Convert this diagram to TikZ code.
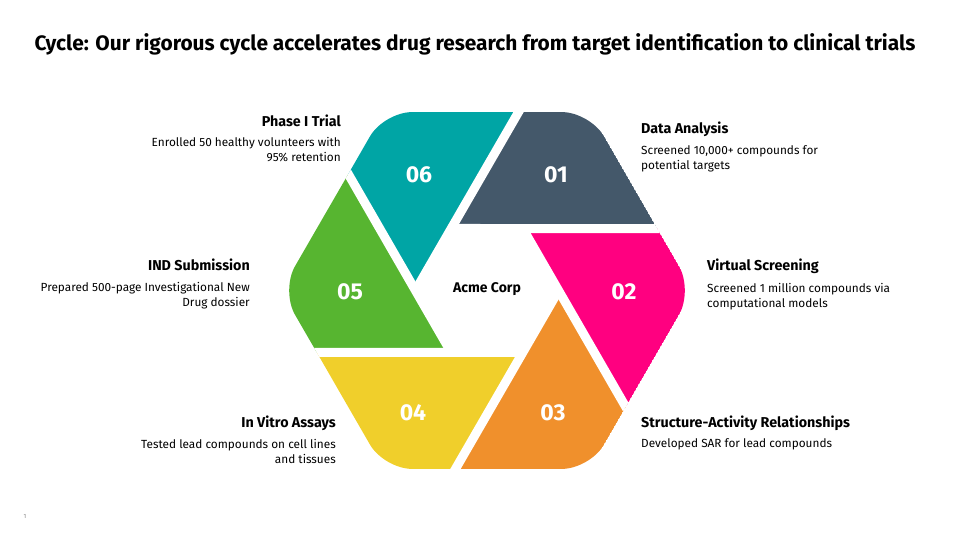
\documentclass[tikz,border=0pt]{standalone}
\usepackage{fontspec}
\setmainfont{Fira Sans}
\usepackage{xcolor}
\usepackage{tikz}
\usetikzlibrary{
    calc
}
\definecolor{slate}{HTML}{44586A}
\definecolor{pink}{HTML}{FF0080}
\definecolor{amber}{HTML}{F0902C}
\definecolor{lemon}{HTML}{F0CF2B}
\definecolor{leaf}{HTML}{57B530}
\definecolor{teal}{HTML}{00A5A5}
\tikzstyle{headtext} = [
    font=\bfseries\fontsize{14.3}{16}\selectfont,
    inner sep=0pt
]
\tikzstyle{desctext} = [
    font=\fontsize{11.8}{15}\selectfont,
    inner sep=0pt
]
\tikzstyle{numtext} = [
    font=\bfseries\fontsize{23}{23}\selectfont,
    text=white
]
\tikzstyle{gap} = [
    line width=9pt,
    white
]

\begin{document}
\begin{tikzpicture}[
        x=1pt, y=1pt
    ]
    \useasboundingbox (0,0) rectangle (960,540);
    \coordinate (c) at (487,249.5);
    \node[font=\bfseries\fontsize{20.9}{24}\selectfont, anchor=base] (title) at (475,489)
        {Cycle: Our rigorous cycle accelerates drug research from target identification to clinical trials};
    % ring of six pieces
    \begin{scope}[shift={(c)}]
        \clip[rounded corners=28] (0,178.4) -- (60:206) -- (0:206) -- (-60:206)
            -- (-120:206) -- (180:206) -- (120:206) -- cycle;
        \foreach \col [count=\i from 0] in {slate,pink,amber,lemon,leaf,teal} {
            \fill[\col] ({120-60*\i}:71.6) -- ({80-60*\i}:181.1)
                -- ({60-60*\i}:206.1) -- ({20-60*\i}:181.1) -- cycle;
        }
        \foreach \i in {0,...,5} {
            \draw[gap] ({120-60*\i}:71.6) -- ({13.9-60*\i}:257.6);
        }
    \end{scope}
    \foreach \n/\x/\y in {01/556/365, 02/624/248, 03/553/127,
                          04/413/127, 05/350/248, 06/419/365} {
        \node[numtext] (n\n) at (\x,\y) {\n};
    }
    \node[font=\bfseries\fontsize{14}{16}\selectfont] (hub) at (487,251) {Acme Corp};
    % labels (multi-line text sits on its last baseline)
    \node[headtext, anchor=base west] (h1) at (641,406) {Data Analysis};
    \node[desctext, anchor=base west, align=left] (d1) at (641,370)
        {Screened 10,000+ compounds for\\potential targets};
    \node[headtext, anchor=base west] (h2) at (707,269) {Virtual Screening};
    \node[desctext, anchor=base west, align=left] (d2) at (707,232)
        {Screened 1 million compounds via\\computational models};
    \node[headtext, anchor=base west] (h3) at (641,112) {Structure-Activity Relationships};
    \node[desctext, anchor=base west, align=left] (d3) at (641,92)
        {Developed SAR for lead compounds};
    \node[headtext, anchor=base east] (h4) at (336,112) {In Vitro Assays};
    \node[desctext, anchor=base east, align=right] (d4) at (336,76)
        {Tested lead compounds on cell lines\\and tissues};
    \node[headtext, anchor=base east] (h5) at (250,269) {IND Submission};
    \node[desctext, anchor=base east, align=right] (d5) at (250,233)
        {Prepared 500-page Investigational New\\Drug dossier};
    \node[headtext, anchor=base east] (h6) at (341,413) {Phase I Trial};
    \node[desctext, anchor=base east, align=right] (d6) at (341,378)
        {Enrolled 50 healthy volunteers with\\95\% retention};
    \node[font=\fontsize{6}{6}\selectfont, text=gray] (page) at (25,24) {1};
\end{tikzpicture}
\end{document}
